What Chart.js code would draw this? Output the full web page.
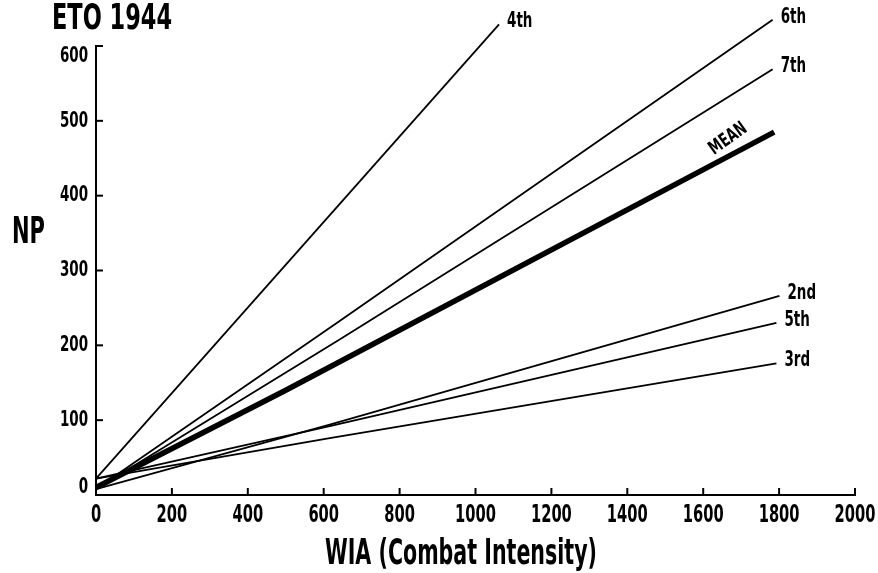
<!DOCTYPE html>
<html>
<head>
<meta charset="utf-8">
<script src="https://cdn.jsdelivr.net/npm/chart.js@4/dist/chart.umd.min.js"></script>
<style>
  html, body { margin: 0; padding: 0; background: #fff; }
  #wrap { width: 878px; height: 573px; }
</style>
</head>
<body>
<div id="wrap"><canvas id="c" width="878" height="573"></canvas></div>
<script>
// ---- Data ----
const chartTitle = "ETO 1944";
const yAxisTitle = "NP";
const xAxisTitle = "WIA (Combat Intensity)";
const xTicks = [0, 200, 400, 600, 800, 1000, 1200, 1400, 1600, 1800, 2000];
const yTicks = [0, 100, 200, 300, 400, 500, 600];

const seriesNames = ["4th", "6th", "7th", "MEAN", "2nd", "5th", "3rd"];
const x4th  = [0, 1062];       const y4th  = [22, 629];
const x6th  = [0, 643, 1783];  const y6th  = [8, 233, 635];
const x7th  = [0, 643, 1783];  const y7th  = [8, 208, 569];
const xMean = [0, 500, 1787];  const yMean = [10, 140, 485];
const x2nd  = [0, 616, 1801];  const y2nd  = [8, 94, 266];
const x5th  = [0, 616, 1793];  const y5th  = [22, 92, 230];
const x3rd  = [0, 616, 1793];  const y3rd  = [22, 76, 176];

const seriesX = [x4th, x6th, x7th, xMean, x2nd, x5th, x3rd];
const seriesY = [y4th, y6th, y7th, yMean, y2nd, y5th, y3rd];

const FONT = '"Liberation Sans Narrow", "DejaVu Sans Condensed", "Arial Narrow", sans-serif';

const datasets = seriesNames.map((name, i) => ({
  label: name,
  data: seriesX[i].map((x, j) => ({ x: x, y: seriesY[i][j] })),
  borderColor: '#000',
  backgroundColor: '#000',
  borderWidth: name === 'MEAN' ? 5.5 : 1.8,
  pointRadius: 0,
  tension: 0,
  fill: false,
  clip: false
}));

// draw condensed text: sx = horizontal squeeze
function condText(ctx, text, x, y, size, sx, align, baseline) {
  ctx.save();
  ctx.font = 'bold ' + size + 'px ' + FONT;
  ctx.textAlign = align || 'left';
  ctx.textBaseline = baseline || 'alphabetic';
  ctx.translate(x, y);
  ctx.scale(sx, 1);
  ctx.fillText(text, 0, 0);
  ctx.restore();
}
function fitText(ctx, text, left, baseline, size, width) {
  ctx.save();
  ctx.font = 'bold ' + size + 'px ' + FONT;
  const w = ctx.measureText(text).width;
  ctx.restore();
  condText(ctx, text, left, baseline, size, width / w, 'left', 'alphabetic');
}

const decorPlugin = {
  id: 'decor',
  afterDraw(chart) {
    const ctx = chart.ctx;
    const xs = chart.scales.x, ys = chart.scales.y;
    const area = chart.chartArea;
    ctx.save();
    ctx.strokeStyle = '#000';
    ctx.fillStyle = '#000';
    ctx.lineWidth = 2;
    // inward tick marks
    yTicks.forEach(v => {
      const py = ys.getPixelForValue(v);
      ctx.beginPath(); ctx.moveTo(area.left, py); ctx.lineTo(area.left + 7, py); ctx.stroke();
    });
    xTicks.forEach(v => {
      const px = xs.getPixelForValue(v);
      ctx.beginPath(); ctx.moveTo(px, area.bottom); ctx.lineTo(px, area.bottom - 7); ctx.stroke();
    });
    // tick labels (condensed)
    const SQ = 0.68;
    yTicks.forEach((v, i) => {
      let py = ys.getPixelForValue(v);
      if (i === 0) py -= 8;
      if (i === yTicks.length - 1) py += 10;
      condText(ctx, String(v), area.left - 8, py, 22, SQ, 'right', 'middle');
    });
    xTicks.forEach(v => {
      const px = xs.getPixelForValue(v);
      condText(ctx, String(v), px, area.bottom + 27, 24, SQ, 'center', 'alphabetic');
    });
    // series end labels
    seriesNames.forEach((name, i) => {
      if (name === 'MEAN') return;
      const n = seriesX[i].length - 1;
      const px = xs.getPixelForValue(seriesX[i][n]);
      const py = ys.getPixelForValue(seriesY[i][n]);
      condText(ctx, name, px + 8, py - 3, 22, SQ, 'left', 'middle');
    });
    // MEAN label, rotated along the line
    {
      const n = xMean.length - 1;
      const p1x = xs.getPixelForValue(xMean[1]), p1y = ys.getPixelForValue(yMean[1]);
      const p2x = xs.getPixelForValue(xMean[n]), p2y = ys.getPixelForValue(yMean[n]);
      const ang = Math.atan2(p2y - p1y, p2x - p1x);
      const at = 1690;
      const lx = xs.getPixelForValue(at);
      const ly = ys.getPixelForValue(yMean[1] + (at - xMean[1]) * (yMean[n] - yMean[1]) / (xMean[n] - xMean[1]));
      ctx.save();
      ctx.translate(lx, ly);
      ctx.rotate(ang - 0.14);
      ctx.scale(0.75, 1);
      ctx.font = 'bold 19px ' + FONT;
      ctx.textAlign = 'center';
      ctx.textBaseline = 'bottom';
      ctx.fillText('MEAN', 0, -6);
      ctx.restore();
    }
    // titles
    fitText(ctx, chartTitle, 52, 29, 36, 120);
    fitText(ctx, yAxisTitle, 12, 243, 37, 33);
    fitText(ctx, xAxisTitle, 325, 564, 36, 272);
    ctx.restore();
  }
};

new Chart(document.getElementById('c'), {
  type: 'line',
  data: { datasets: datasets },
  plugins: [decorPlugin],
  options: {
    responsive: false,
    animation: false,
    devicePixelRatio: 1,
    layout: { padding: { top: 46, right: 23, left: 0, bottom: 0 } },
    plugins: { legend: { display: false }, tooltip: { enabled: false }, title: { display: false } },
    scales: {
      x: {
        type: 'linear',
        min: 0, max: 2000,
        afterBuildTicks: s => { s.ticks = xTicks.map(v => ({ value: v })); },
        afterFit: s => { s.height = 78; },
        grid: { display: false },
        border: { display: true, color: '#000', width: 2 },
        ticks: { display: false }
      },
      y: {
        type: 'linear',
        min: 0, max: 600,
        afterBuildTicks: s => { s.ticks = yTicks.map(v => ({ value: v })); },
        afterFit: s => { s.width = 96; },
        grid: { display: false },
        border: { display: true, color: '#000', width: 2 },
        ticks: { display: false }
      }
    }
  }
});
</script>
</body>
</html>
